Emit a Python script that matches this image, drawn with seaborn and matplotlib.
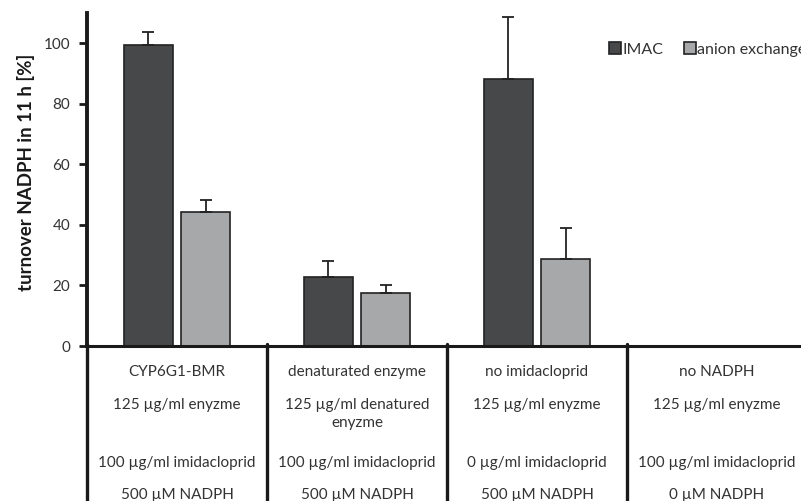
import numpy as np
import pandas as pd
import matplotlib
matplotlib.use("Agg")
import matplotlib.pyplot as plt
import seaborn as sns
from matplotlib.lines import Line2D

# ---------------------------------------------------------------------------
# Data
# ---------------------------------------------------------------------------
CONDITIONS = ["CYP6G1-BMR", "denaturated enzyme", "no imidacloprid", "no NADPH"]
METHODS    = ["IMAC", "anion exchange"]
IMAC_MEAN  = [99.3, 22.9, 88.2, np.nan]
IMAC_ERR   = [4.3, 5.2, 20.4, np.nan]
ANION_MEAN = [44.3, 17.6, 28.8, np.nan]
ANION_ERR  = [4.0, 2.6, 10.2, np.nan]

ENZYME_ROW = ["125 µg/ml enyzme", "125 µg/ml denatured\nenyzme",
              "125 µg/ml enyzme", "125 µg/ml enyzme"]
IMIDA_ROW  = ["100 µg/ml imidacloprid", "100 µg/ml imidacloprid",
              "0 µg/ml imidacloprid", "100 µg/ml imidacloprid"]
NADPH_ROW  = ["500 µM NADPH", "500 µM NADPH", "500 µM NADPH", "0 µM NADPH"]

COLORS = {"IMAC": "#47484a", "anion exchange": "#a7a8aa"}
EDGE   = "#222222"

df = pd.DataFrame({
    "condition": CONDITIONS * 2,
    "method": [METHODS[0]] * 4 + [METHODS[1]] * 4,
    "turnover": IMAC_MEAN + ANION_MEAN,
    "err": IMAC_ERR + ANION_ERR,
})

sns.set_theme(style="white")
plt.rcParams["font.family"] = ["Lato", "DejaVu Sans"]

W, H = 801, 501
fig = plt.figure(figsize=(W / 100, H / 100), dpi=100)
# axes: left spine at x=87 px, x-axis at y=346 px, top at y=13 px
ax = fig.add_axes([87 / W, (H - 346) / H, 720 / W, 333 / H])

sns.barplot(
    data=df, x="condition", y="turnover", hue="method",
    order=CONDITIONS, hue_order=METHODS, palette=COLORS,
    width=0.64, gap=0.15, errorbar=None,
    edgecolor=EDGE, linewidth=1.2, ax=ax, legend=False,
)

# upward-only error bars, Excel style
for patch_group, method in zip(ax.containers, METHODS):
    sub = df[df["method"] == method].set_index("condition").loc[CONDITIONS]
    for bar, m, e in zip(patch_group, sub["turnover"], sub["err"]):
        if np.isnan(m):
            continue
        xc = bar.get_x() + bar.get_width() / 2
        ax.errorbar(xc, m, yerr=[[0], [e]], color="#222222",
                    elinewidth=1.3, capsize=4.5, capthick=1.3, zorder=3)

ax.set_xlim(-0.5, 3.5)
ax.set_ylim(0, 110)
ax.set_yticks([0, 20, 40, 60, 80, 100])
ax.tick_params(axis="y", direction="out", length=6, width=2, color="#1a1a1a",
               labelsize=11, labelcolor="#333333", pad=6, left=True)
ax.set_xticks([])
ax.set_xlabel("")
ax.set_ylabel("turnover NADPH in 11 h [%]", fontsize=13.5, fontweight="bold",
              color="#1a1a1a")
ax.yaxis.set_label_coords(-52 / 720, 0.52)

for side in ["top", "right"]:
    ax.spines[side].set_visible(False)
ax.spines["left"].set_linewidth(2.8)
ax.spines["left"].set_color("#1a1a1a")
ax.spines["bottom"].set_linewidth(2.2)
ax.spines["bottom"].set_color("#1a1a1a")

# table of conditions below the axis
for b in [-0.5, 0.5, 1.5, 2.5]:
    ax.add_line(Line2D([b, b], [0.005, -0.6], transform=ax.get_xaxis_transform(),
                       color="#1a1a1a", lw=2.4, clip_on=False))

px = 1 / 333  # one pixel in axes fraction (vertical)
rows = [(CONDITIONS, 372), (ENZYME_ROW, 398), (IMIDA_ROW, 463), (NADPH_ROW, 495)]
for i, (labels, ypix) in enumerate(rows):
    for j, lab in enumerate(labels):
        va = "top" if i == 1 else "center"
        ax.text(j, -(ypix - 346) * px, lab, transform=ax.get_xaxis_transform(),
                ha="center", va=va, fontsize=11, color="#333333",
                linespacing=1.35, clip_on=False)

# legend at top right (cut at the right edge, as in the reference)
handles = [Line2D([0], [0], marker="s", linestyle="none", markersize=9,
                  markerfacecolor=COLORS[m], markeredgecolor=EDGE,
                  markeredgewidth=1.2) for m in METHODS]
fig.legend(handles, METHODS, loc="center left",
           bbox_to_anchor=(591 / W, 1 - 50 / H), ncol=2, frameon=False,
           fontsize=11.5, handletextpad=-0.1, columnspacing=1.0,
           handlelength=1.2, labelcolor="#333333")

fig.savefig("out.png", dpi=100)
